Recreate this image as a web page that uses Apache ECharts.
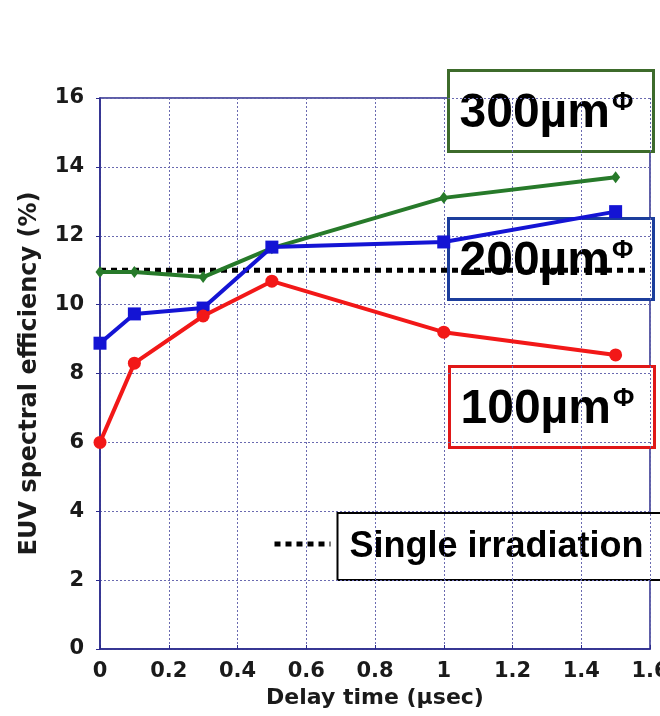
<!DOCTYPE html>
<html>
<head>
<meta charset="utf-8">
<script src="https://cdn.jsdelivr.net/npm/echarts@6/dist/echarts.min.js"></script>
<style>
html,body{margin:0;padding:0;background:#fff;}
#chart{width:660px;height:716px;}
</style>
</head>
<body>
<div id="chart"></div>
<script>
// ---- data ----
const delay = [0, 0.1, 0.3, 0.5, 1.0, 1.5];
const eff100 = [6.0, 8.3, 9.67, 10.68, 9.2, 8.54];
const eff200 = [8.88, 9.73, 9.9, 11.67, 11.82, 12.7];
const eff300 = [10.95, 10.95, 10.8, 11.64, 13.1, 13.7];
const singleX = [0, 1.6];
const singleLevel = 11.0;
const labels = ['100µm', '200µm', '300µm'];
const singleLabel = 'Single irradiation';
const xTitle = 'Delay time (µsec)';
const yTitle = 'EUV spectral efficiency (%)';

const pairs = (xs, ys) => xs.map((x, i) => [x, ys[i]]);

const navy = '#2a2a8c';
const gridCol = '#6a6ab0';
const axisFont = 'DejaVu Sans';

const chart = echarts.init(document.getElementById('chart'), null, {renderer: 'canvas'});

function labelBox(x, y, color, txt) {
  return {
    type: 'group', left: x, top: y,
    children: [
      {type: 'rect', shape: {x: 0, y: 0, width: 205, height: 81},
       style: {fill: '#fff', stroke: color, lineWidth: 3}},
      {type: 'text', x: 11, y: 67,
       style: {text: '{a|' + txt + '}{b|Φ}', fill: '#000',
               verticalAlign: 'bottom',
               rich: {a: {fontFamily: 'Liberation Sans', fontWeight: 'bold', fontSize: 48, fill:'#000'},
                      b: {fontFamily: 'Liberation Sans', fontWeight: 'bold', fontSize: 26, verticalAlign: 'top', padding:[0,0,17,2], fill:'#000'}}}}
    ]
  };
}

chart.setOption({
  animation: false,
  backgroundColor: '#fff',
  grid: {left: 100, right: 10, top: 98, bottom: 67, outerBoundsMode: 'none', containLabel: false,
         show: true, borderColor: navy, borderWidth: 1.5, backgroundColor: 'transparent'},
  xAxis: {
    type: 'value', min: 0, max: 1.6, interval: 0.2,
    name: xTitle, nameLocation: 'middle', nameGap: 30,
    nameTextStyle: {fontFamily: axisFont, fontWeight: 'bold', fontSize: 22, color: '#1a1a1a'},
    axisLine: {lineStyle: {color: navy, width: 1.5}},
    axisTick: {show: true, inside: true, length: 4, lineStyle: {color: navy}},
    axisLabel: {fontFamily: axisFont, fontWeight: 'bold', fontSize: 21, color: '#1a1a1a', margin: 12,
                formatter: v => String(Math.round(v * 10) / 10)},
    splitLine: {show: true, lineStyle: {color: gridCol, type: [2, 2], width: 1}}
  },
  yAxis: {
    type: 'value', min: 0, max: 16, interval: 2,
    name: yTitle, nameLocation: 'middle', nameGap: 58,
    nameTextStyle: {fontFamily: axisFont, fontWeight: 'bold', fontSize: 24, color: '#1a1a1a'},
    axisLine: {lineStyle: {color: navy, width: 1.5}},
    axisTick: {show: true, length: 4, lineStyle: {color: navy}},
    axisLabel: {fontFamily: axisFont, fontWeight: 'bold', fontSize: 21, color: '#1a1a1a', margin: 16},
    splitLine: {show: true, lineStyle: {color: gridCol, type: [2, 2], width: 1}}
  },
  series: [
    {type: 'line', data: pairs(singleX, singleX.map(() => singleLevel)), symbol: 'none', clip: false, z: 1,
     lineStyle: {color: '#000', width: 5, type: [6, 5]}},
    {type: 'line', name: labels[2], data: pairs(delay, eff300), symbol: 'diamond', symbolSize: [9, 12],
     lineStyle: {color: '#277a2a', width: 4}, itemStyle: {color: '#277a2a'}, z: 3},
    {type: 'line', name: labels[1], data: pairs(delay, eff200), symbol: 'rect', symbolSize: 13,
     lineStyle: {color: '#1414d4', width: 4}, itemStyle: {color: '#1414d4'}, z: 4},
    {type: 'line', name: labels[0], data: pairs(delay, eff100), symbol: 'circle', symbolSize: 13,
     lineStyle: {color: '#f21818', width: 4}, itemStyle: {color: '#f21818'}, z: 5}
  ],
  graphic: [
    labelBox(447, 69, '#3d6b2b', labels[2]),
    labelBox(447, 217, '#1c3e9c', labels[1]),
    labelBox(448, 365, '#e01818', labels[0]),
    {type: 'group', left: 272, top: 512, children: [
      {type: 'line', shape: {x1: 0, y1: 31, x2: 56, y2: 31}, style: {stroke: '#000', lineWidth: 5, lineDash: [6, 5]}},
      {type: 'rect', shape: {x: 63, y: 0, width: 340, height: 67}, style: {fill: '#fff', stroke: '#000', lineWidth: 2}},
      {type: 'text', x: 75, y: 34, style: {text: singleLabel, fill: '#000', verticalAlign: 'middle',
        font: 'bold 36px "Liberation Sans"'}}
    ]}
  ]
});
</script>
</body>
</html>
